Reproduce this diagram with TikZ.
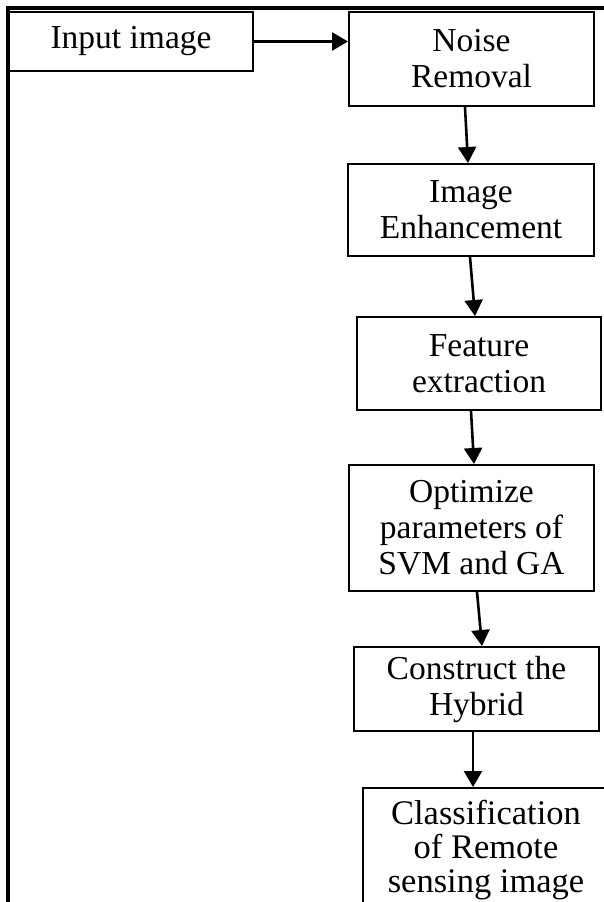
\documentclass[tikz,border=0pt]{standalone}
\usepackage{fontspec}
\setmainfont{Liberation Serif}
\usetikzlibrary{arrows.meta}
\begin{document}
\begin{tikzpicture}[x=1pt,y=-1pt,
  stepbox/.style={draw, line width=2pt, align=center, inner sep=0pt,
    anchor=north west, font=\fontsize{33.5}{36}\selectfont},
  flow/.style={-{Triangle[length=16pt,width=18pt]}, line width=2.6pt}]
\useasboundingbox (0,0) rectangle (604,902);
\clip (0,0) rectangle (604,902);
% outer frame (top and left sides)
\draw[line width=3.2pt] (8,903) -- (8,8) -- (605,8);
% process steps
\node[stepbox, minimum width=244pt, minimum height=59pt] (inp) at (8,11) {Input image};
\node[stepbox, minimum width=245pt, minimum height=94pt] (noise) at (348,11) {Noise\\Removal};
\node[stepbox, minimum width=246pt, minimum height=92pt] (enh) at (347,163) {Image\\Enhancement};
\node[stepbox, minimum width=244pt, minimum height=93pt] (feat) at (356,316) {Feature\\extraction};
\node[stepbox, minimum width=245pt, minimum height=126pt] (opt) at (348,464) {Optimize\\parameters of\\SVM and GA};
\node[stepbox, minimum width=245pt, minimum height=84pt] (hyb) at (353,646) {Construct the\\Hybrid};
\node[stepbox, minimum width=246pt, minimum height=124pt, font=\fontsize{34.5}{34}\selectfont] (cls) at (362,787) {Classification\\of Remote\\sensing image};
% connectors
\draw[flow] (inp.east) -- (inp.east -| noise.west);
\draw[flow] ([xshift=-6.5pt]noise.south) -- ([xshift=-3pt]enh.north);
\draw[flow] ([xshift=-1pt]enh.south) -- ([xshift=-4pt]feat.north);
\draw[flow] ([xshift=-8pt]feat.south) -- ([xshift=2.5pt]opt.north);
\draw[flow] ([xshift=5.5pt]opt.south) -- ([xshift=5.5pt]hyb.north);
\draw[flow] ([xshift=-3.5pt]hyb.south) -- ([xshift=-13pt]cls.north);
\end{tikzpicture}
\end{document}
